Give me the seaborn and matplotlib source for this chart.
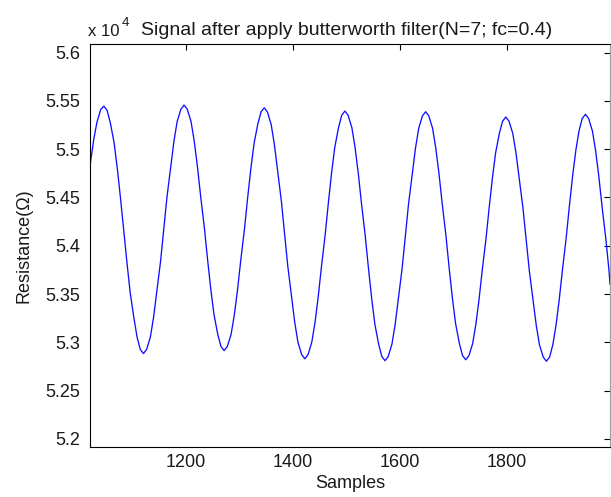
import matplotlib
matplotlib.use("Agg")
import matplotlib.pyplot as plt
from matplotlib.ticker import FuncFormatter, MultipleLocator
import numpy as np
import pandas as pd
import seaborn as sb

# values (resistance in units of 10^4 ohm)
samples = [1020, 1027, 1033, 1040, 1046,
           1052, 1058, 1065, 1071, 1077, 1083, 1089, 1095, 1102, 1108, 1114, 1120,
           1126, 1133, 1139, 1145, 1152, 1158, 1164, 1171, 1177, 1183, 1190, 1196,
           1202, 1209, 1215, 1221, 1227, 1234, 1240, 1246, 1252, 1259, 1265, 1271,
           1277, 1284, 1290, 1296, 1302, 1309, 1315, 1321, 1327, 1334, 1340, 1346,
           1352, 1359, 1365, 1371, 1378, 1384, 1390, 1397, 1403, 1409, 1416, 1422,
           1428, 1435, 1441, 1447, 1453, 1460, 1466, 1472, 1478, 1485, 1491, 1497,
           1503, 1510, 1516, 1522, 1528, 1535, 1541, 1547, 1553, 1560, 1566, 1572,
           1578, 1585, 1591, 1597, 1604, 1610, 1616, 1623, 1629, 1635, 1642, 1648,
           1654, 1661, 1667, 1673, 1679, 1686, 1692, 1698, 1704, 1711, 1717, 1723,
           1729, 1736, 1742, 1748, 1754, 1761, 1767, 1773, 1779, 1786, 1792, 1798,
           1804, 1811, 1817, 1823, 1830, 1836, 1842, 1849, 1855, 1861, 1868, 1874,
           1880, 1886, 1892, 1898, 1904, 1911, 1917, 1923, 1929, 1935, 1941, 1947,
           1953, 1960, 1966, 1972, 1978, 1985, 1991, 1993]
resistance = [5.4829, 5.5100, 5.5279, 5.5409, 5.5445,
              5.5401, 5.5273, 5.5070, 5.4805, 5.4496, 5.4165, 5.3833, 5.3524, 5.3259, 5.3056, 5.2928, 5.2884,
              5.2928, 5.3056, 5.3261, 5.3527, 5.3837, 5.4170, 5.4503, 5.4813, 5.5079, 5.5284, 5.5412, 5.5456,
              5.5413, 5.5286, 5.5084, 5.4821, 5.4514, 5.4186, 5.3857, 5.3550, 5.3287, 5.3085, 5.2958, 5.2915,
              5.2958, 5.3083, 5.3283, 5.3543, 5.3846, 5.4171, 5.4497, 5.4800, 5.5060, 5.5260, 5.5385, 5.5428,
              5.5384, 5.5254, 5.5048, 5.4779, 5.4465, 5.4129, 5.3793, 5.3480, 5.3210, 5.3004, 5.2874, 5.2830,
              5.2874, 5.3002, 5.3205, 5.3471, 5.3780, 5.4112, 5.4444, 5.4753, 5.5019, 5.5222, 5.5350, 5.5394,
              5.5350, 5.5221, 5.5016, 5.4748, 5.4436, 5.4102, 5.3768, 5.3456, 5.3188, 5.2983, 5.2854, 5.2810,
              5.2854, 5.2983, 5.3187, 5.3454, 5.3765, 5.4098, 5.4432, 5.4743, 5.5010, 5.5214, 5.5343, 5.5387,
              5.5343, 5.5215, 5.5011, 5.4745, 5.4436, 5.4104, 5.3771, 5.3462, 5.3196, 5.2992, 5.2864, 5.2820,
              5.2863, 5.2988, 5.3188, 5.3448, 5.3751, 5.4076, 5.4401, 5.4704, 5.4964, 5.5164, 5.5289, 5.5332,
              5.5289, 5.5163, 5.4962, 5.4700, 5.4395, 5.4069, 5.3742, 5.3437, 5.3175, 5.2974, 5.2848, 5.2805,
              5.2848, 5.2976, 5.3179, 5.3444, 5.3752, 5.4082, 5.4413, 5.4721, 5.4986, 5.5189, 5.5317, 5.5360,
              5.5316, 5.5189, 5.4985, 5.4720, 5.4411, 5.4080, 5.3749, 5.3600]
x_ticks = [1200, 1400, 1600, 1800]

df = pd.DataFrame({'Samples': samples, 'Resistance': resistance})

sb.set_theme(style="white")
plt.rcParams['font.family'] = ['Liberation Sans', 'DejaVu Sans']
plt.rcParams['xtick.direction'] = 'in'
plt.rcParams['ytick.direction'] = 'in'

fs = 13
txt = '#1a1a1a'

fig = plt.figure(figsize=(6.11, 4.97), dpi=100)
ax = fig.add_axes([0.1473, 0.1000, 0.8511, 0.8105])
sb.lineplot(data=df, x='Samples', y='Resistance', color='#1010ff', linewidth=0.95,
            errorbar=None, ax=ax)

ax.set_xlim(1020, 1993)
ax.set_ylim(5.1914, 5.6083)
ax.set_xticks(x_ticks)
ax.yaxis.set_major_locator(MultipleLocator(0.05))
ax.yaxis.set_major_formatter(FuncFormatter(lambda v, p: '%g' % round(v, 2)))
ax.tick_params(axis='both', which='major', labelsize=fs, length=4.5, width=0.8,
               color='black', labelcolor=txt, top=True, right=True)
ax.tick_params(axis='y', pad=7)
ax.tick_params(axis='x', pad=5)
for s in ['left', 'bottom', 'top']:
    ax.spines[s].set_color('black')
    ax.spines[s].set_linewidth(0.8)
ax.spines['right'].set_color('#a0a0a0')
ax.spines['right'].set_linewidth(0.8)

ax.set_xlabel('Samples', fontsize=fs, color=txt, labelpad=3)
ax.set_ylabel('Resistance(Ω)', fontsize=fs, color=txt, labelpad=9)
ax.set_title('Signal after apply butterworth filter(N=7; fc=0.4)', fontsize=14,
             color=txt, pad=7, x=0.493)
ax.text(-0.004, 1.022, 'x 10', transform=ax.transAxes, fontsize=12,
        color=txt, ha='left', va='baseline')
ax.text(0.061, 1.046, '4', transform=ax.transAxes, fontsize=9.5,
        color=txt, ha='left', va='baseline')

plt.savefig('out.png', dpi=100)
